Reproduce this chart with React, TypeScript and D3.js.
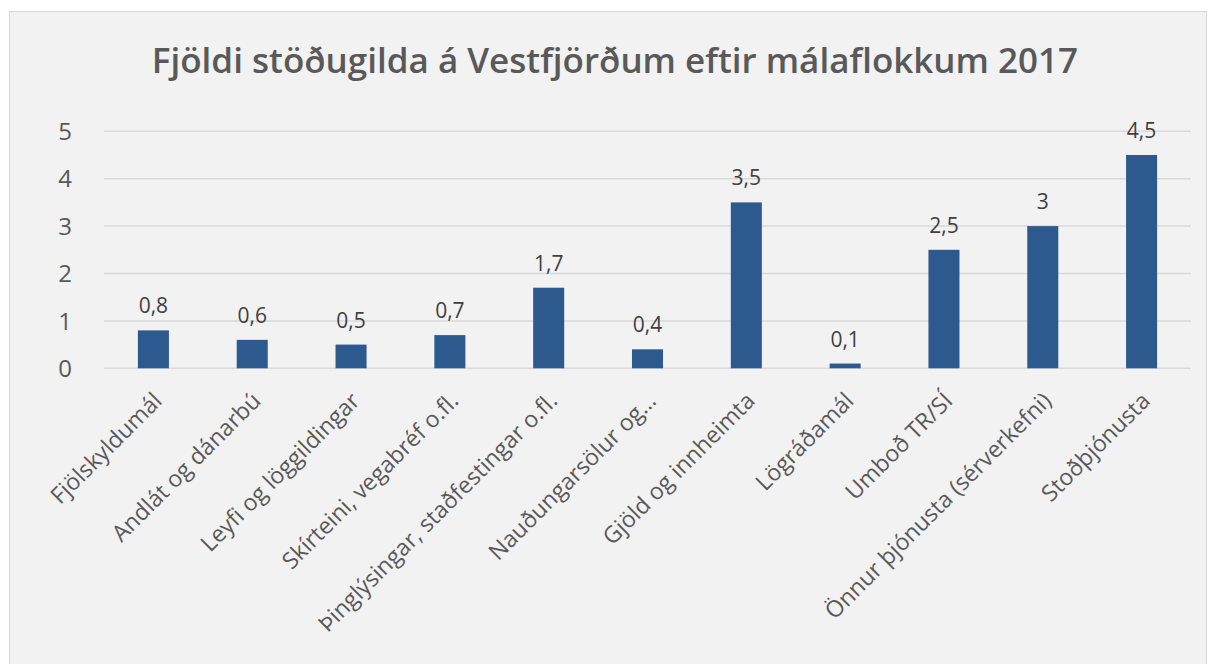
import React from "react";
import * as d3 from "d3";

const categories = [
  "Fjölskyldumál",
  "Andlát og dánarbú",
  "Leyfi og löggildingar",
  "Skírteini, vegabréf o.fl.",
  "Þinglýsingar, staðfestingar o.fl.",
  "Nauðungarsölur og…",
  "Gjöld og innheimta",
  "Lögráðamál",
  "Umboð TR/SÍ",
  "Önnur þjónusta (sérverkefni)",
  "Stoðþjónusta",
];
const values = [0.8, 0.6, 0.5, 0.7, 1.7, 0.4, 3.5, 0.1, 2.5, 3, 4.5];
const yTicks = [0, 1, 2, 3, 4, 5];
const title = "Fjöldi stöðugilda á Vestfjörðum eftir málaflokkum 2017";

const W = 1209;
const H = 664;
const font = "'Segoe UI', 'Open Sans', 'Noto Sans', sans-serif";

export default function App() {
  const x = d3
    .scaleBand()
    .domain(categories)
    .range([104, 1191])
    .paddingInner(0.686)
    .paddingOuter(0.343);
  const y = d3.scaleLinear().domain([0, 5]).range([368.3, 131.3]);
  const fmt = (v) => String(v).replace(".", ",");

  return (
    <svg
      width={W}
      height={H}
      style={{ position: "absolute", left: 0, top: 0 }}
      fontFamily={font}
    >
      <rect x={0} y={0} width={W} height={H} fill="#ffffff" />
      <rect x={9.5} y={11.5} width={1197} height={H} fill="#f2f2f2" stroke="#d9d9d9" />
      <text x={615} y={73} textAnchor="middle" fontSize={35} fontWeight={600} fill="#595959">
        {title}
      </text>
      {yTicks.map((t) => (
        <g key={t}>
          <line x1={104} x2={1191} y1={y(t)} y2={y(t)} stroke="#d9d9d9" strokeWidth={1.5} />
          <text x={72} y={y(t)} dy="0.36em" textAnchor="end" fontSize={24} fill="#595959">
            {t}
          </text>
        </g>
      ))}
      {categories.map((c, i) => {
        const cx = x(c) + x.bandwidth() / 2;
        return (
          <g key={c}>
            <rect
              x={x(c)}
              y={y(values[i])}
              width={x.bandwidth()}
              height={y(0) - y(values[i])}
              fill="#2c5a8f"
            />
            <text
              x={cx}
              y={y(values[i]) - 17}
              textAnchor="middle"
              fontSize={21}
              fill="#404040"
            >
              {fmt(values[i])}
            </text>
            <text
              transform={`translate(${cx + 10},${y(0) + 34}) rotate(-45)`}
              textAnchor="end"
              fontSize={23}
              fill="#595959"
            >
              {c}
            </text>
          </g>
        );
      })}
    </svg>
  );
}
